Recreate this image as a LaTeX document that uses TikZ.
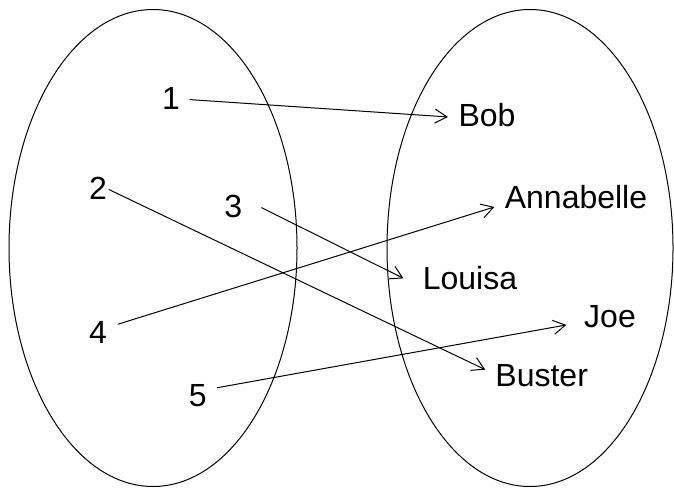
\documentclass[tikz,border=0pt]{standalone}
\usepackage{fontspec}
\setmainfont{Liberation Sans}
\usetikzlibrary{arrows.meta}
\def\leftset{(153,248) ellipse (144 and 238.5)}
\def\rightset{(530,248) ellipse (143 and 238.5)}
\tikzset{
  elem/.style={inner sep=0pt, anchor=base, font=\fontsize{16}{19}\selectfont},
  map/.style={-{Straight Barb[length=6pt,width=7pt]}, line width=0.5pt}
}

\begin{document}
\begin{tikzpicture}[x=0.5pt, y=-0.5pt]
      \useasboundingbox (0,0) rectangle (674,487);

      % Sets
      \draw[line width=0.5pt] \leftset;
      \draw[line width=0.5pt] \rightset;

      % Numbers
      \node[elem] (one) at (171,109.3) {1};
      \node[elem] (two) at (98,199.3) {2};
      \node[elem] (three) at (233.3,217.3) {3};
      \node[elem] (four) at (98,343.3) {4};
      \node[elem] (five) at (197.7,406) {5};

      % Names
      \node[elem] (bob) at (487,126.7) {Bob};
      \node[elem] (annabelle) at (576,208) {Annabelle};
      \node[elem] (louisa) at (470,289.3) {Louisa};
      \node[elem] (joe) at (610,327) {Joe};
      \node[elem] (buster) at (541.7,386.7) {Buster};

      % Mapping
      \draw[map] ([shift={(9.4,1.3)}]one.east) -- ([shift={(-10.2,1.7)}]bob.west);
      \draw[map] ([shift={(1.4,1.3)}]two.east) -- ([shift={(-9.8,-6.2)}]buster.west);
      \draw[map] ([shift={(18.8,1.3)}]three.east) -- ([shift={(-19,0.5)}]louisa.west);
      \draw[map] ([shift={(10.4,-8)}]four.east) -- ([shift={(-10,10.4)}]annabelle.west);
      \draw[map] ([shift={(10,-7.4)}]five.east) -- ([shift={(-17.5,8.8)}]joe.west);

    \end{tikzpicture}
\end{document}
